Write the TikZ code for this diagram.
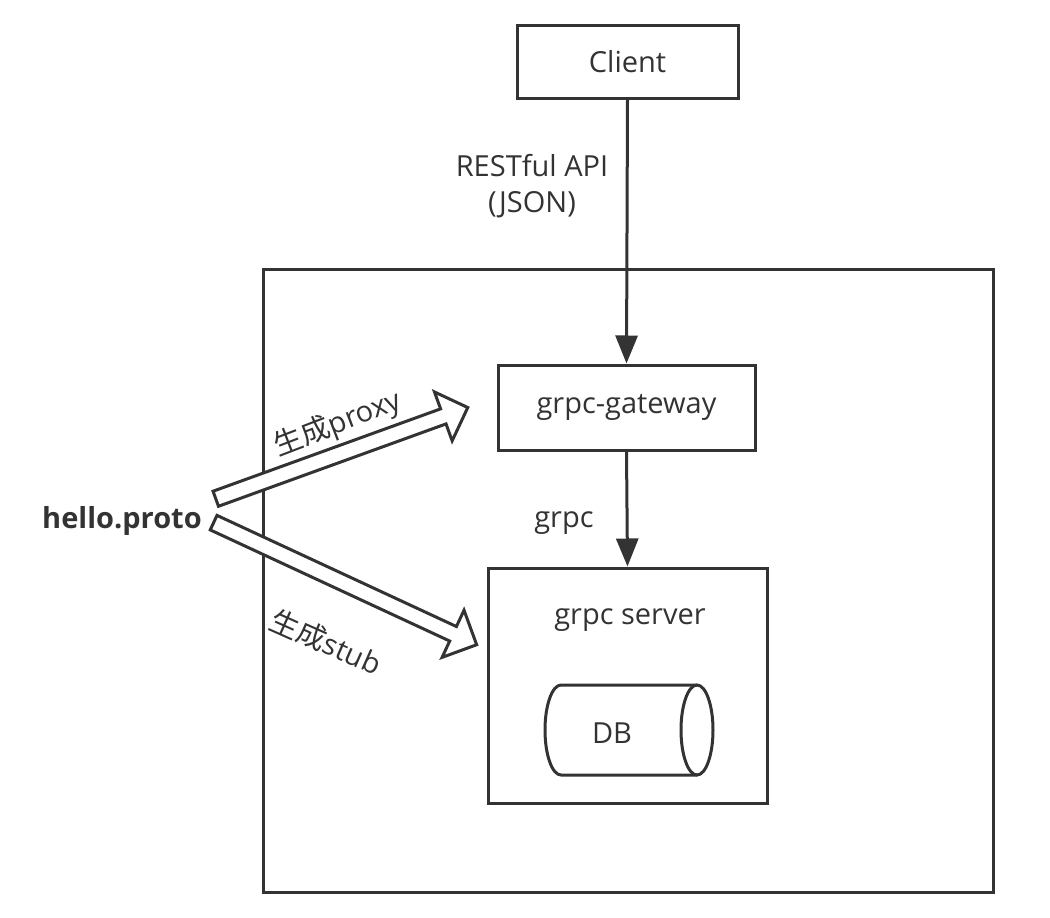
\documentclass[tikz,border=0pt]{standalone}
\usepackage{fontspec}
\setmainfont{Open Sans}
\newfontfamily\cjk{Noto Sans CJK SC}
\usetikzlibrary{arrows.meta,shapes.arrows}
\definecolor{ink}{HTML}{333333}
\tikzset{
  box/.style={draw=ink, line width=3pt, inner sep=0pt},
  lbl/.style={text=ink, font=\fontsize{29}{36}\selectfont, inner sep=0pt, align=center},
  conn/.style={draw=ink, line width=3pt, -{Triangle[length=28pt,width=22pt]}},
  blockarrow/.style={single arrow, draw=ink, line width=3pt, fill=white,
    inner xsep=0pt, inner ysep=6.5pt,
    single arrow head extend=18pt, single arrow tip angle=90,
    single arrow head indent=0pt},
}
\begin{document}
\begin{tikzpicture}[x=1pt,y=-1pt]
\useasboundingbox (0,0) rectangle (1050,918);
% outer box
\draw[box] (263,269) rectangle (993,892);
% boxes
\node[box, minimum width=221pt, minimum height=73pt] (client) at (627.5,61.5) {};
\node[lbl] at (client.center) {Client};
\node[box, minimum width=257pt, minimum height=85pt] (gw) at (626.5,407.5) {};
\node[lbl] at (gw.center) {grpc-gateway};
\node[box, minimum width=279pt, minimum height=235pt] (srv) at (627.5,685.5) {};
\node[lbl] (srvlbl) at (630,620) {grpc server};
% DB cylinder
\draw[draw=ink, line width=3pt] (697,685) -- (561,685)
  arc[start angle=270, end angle=90, x radius=16, y radius=45] -- (697,775);
\draw[draw=ink, line width=3pt] (697,730) ellipse[x radius=16, y radius=45];
\node[lbl] (db) at (612,733) {DB};
% connectors
\draw[conn] (client.south) -- (gw.north);
\node[lbl] (rest) at (532,186) {RESTful API\\(JSON)};
\draw[conn] (gw.south) -- (srv.north);
\node[lbl] (grpc) at (564,523) {grpc};
% hello.proto
\node[lbl, font=\fontsize{29}{36}\selectfont\bfseries] (proto) at (122,521) {hello.proto};
% block arrows
\node[blockarrow, minimum height=268pt, rotate=19.9] (pa) at (338,454.5) {};
\node[blockarrow, minimum height=290pt, rotate=-24.9] (sa) at (341.5,582) {};
\node[lbl, rotate=21] (plbl) at (338,424) {{\cjk 生成}proxy};
\node[lbl, rotate=-24] (slbl) at (326,642) {{\cjk 生成}stub};
\end{tikzpicture}
\end{document}
